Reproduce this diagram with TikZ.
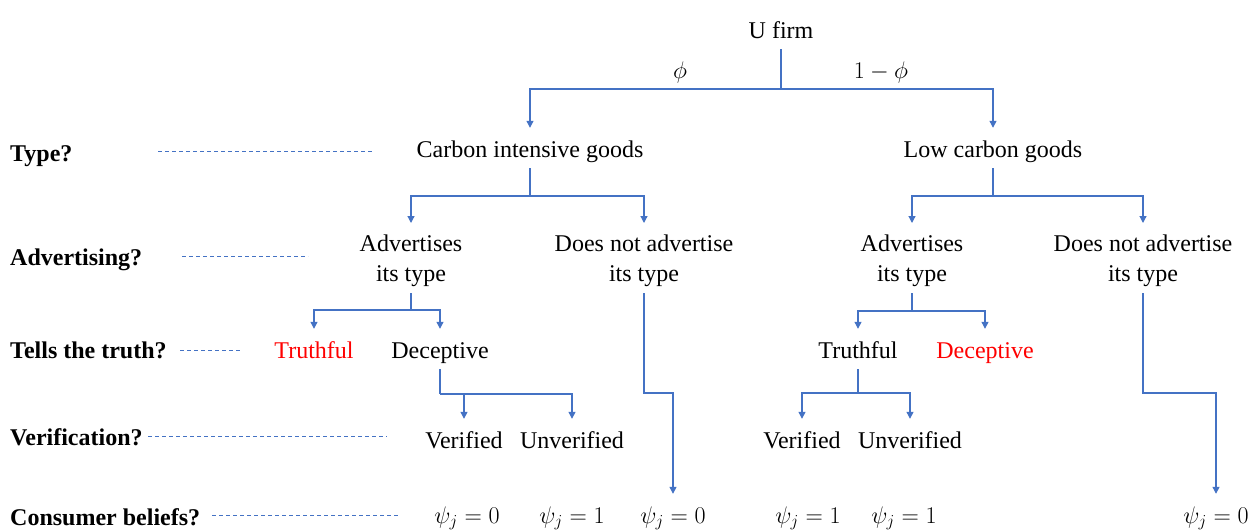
\documentclass[tikz,border=0pt]{standalone}
\usepackage{fix-cm}
\usepackage{fontspec}
\setmainfont{Liberation Serif}
\usetikzlibrary{arrows.meta}
\definecolor{lblue}{RGB}{68,114,196}
\definecolor{tred}{RGB}{255,0,0}
\begin{document}
\begin{tikzpicture}[x=1pt,y=-1pt,
  font=\fontsize{24}{30}\selectfont,
  tn/.style={inner sep=0pt, text height=17pt, text depth=5pt, anchor=base},
  tm/.style={inner sep=0pt, align=center, anchor=north},
  lab/.style={inner sep=0pt, anchor=base west, font=\fontsize{24}{30}\selectfont\bfseries},
  conn/.style={draw=lblue, line width=1.2pt, shorten <=6pt},
  arr/.style={draw=lblue, line width=1.2pt, -{Triangle[length=7pt,width=7pt]}, shorten >=12pt},
  dline/.style={draw=lblue, line width=0.9pt, dash pattern=on 4pt off 3pt}
]
\useasboundingbox (0,0) rectangle (1253,530);

% left labels
\node[lab] (lt) at (10,161) {Type?};
\node[lab] (la) at (10,265) {Advertising?};
\node[lab] (ltr) at (10,358) {Tells the truth?};
\node[lab] (lv) at (10,445) {Verification?};
\node[lab] (lc) at (10,525) {Consumer beliefs?};

\coordinate (d1a) at (158,151); \coordinate (d1b) at (372,151);
\coordinate (d2a) at (182,256); \coordinate (d2b) at (308,256);
\coordinate (d3a) at (180,350); \coordinate (d3b) at (240,350);
\coordinate (d4a) at (148,436); \coordinate (d4b) at (387,436);
\coordinate (d5a) at (212,515); \coordinate (d5b) at (398,515);
\draw[dline] (d1a) -- (d1b);
\draw[dline] (d2a) -- (d2b);
\draw[dline] (d3a) -- (d3b);
\draw[dline] (d4a) -- (d4b);
\draw[dline] (d5a) -- (d5b);

% tree nodes
\node[tn] (ufirm) at (781,38) {U firm};
\node[tn] (phi) at (680,78) {$\phi$};
\node[tn] (omphi) at (881,78) {$1-\phi$};
\node[tn] (carbon) at (530,157) {Carbon intensive goods};
\node[tn] (low) at (993,157) {Low carbon goods};
\node[tm] (adv1) at (411,235) {Advertises\\its type};
\node[tm] (dna1) at (644,235) {Does not advertise\\its type};
\node[tm] (adv2) at (912,235) {Advertises\\its type};
\node[tm] (dna2) at (1143,235) {Does not advertise\\its type};
\node[tn, text=tred] (tru1) at (314,358) {Truthful};
\node[tn] (dec1) at (440,358) {Deceptive};
\node[tn] (tru2) at (858,358) {Truthful};
\node[tn, text=tred] (dec2) at (985,358) {Deceptive};
\node[tn] (ver1) at (464,448) {Verified};
\node[tn] (unv1) at (572,448) {Unverified};
\node[tn] (ver2) at (802,448) {Verified};
\node[tn] (unv2) at (910,448) {Unverified};
\node[tn] (psi1) at (467,523) {$\psi_j=0$};
\node[tn] (psi2) at (572,523) {$\psi_j=1$};
\node[tn] (psi3) at (673,523) {$\psi_j=0$};
\node[tn] (psi4) at (808,523) {$\psi_j=1$};
\node[tn] (psi5) at (904,523) {$\psi_j=1$};
\node[tn] (psi6) at (1216,523) {$\psi_j=0$};

% junctions
\coordinate (j0) at (781,89);
\coordinate (j1) at (530,196);
\coordinate (j2) at (993,196);
\coordinate (j3) at (411,310);
\coordinate (j4) at (912,311);
\coordinate (j5) at (440,394);
\coordinate (j6) at (858,393);
\coordinate (k1) at (644,393);
\coordinate (k2) at (1143,393);

\draw[conn] (ufirm) -- (j0);
\draw[arr] (j0) -| (carbon);
\draw[arr] (j0) -| (low);

\draw[conn] (carbon) -- (j1);
\draw[arr] (j1) -| (adv1);
\draw[arr] (j1) -| (dna1);
\draw[conn] (low) -- (j2);
\draw[arr] (j2) -| (adv2);
\draw[arr] (j2) -| (dna2);

\draw[conn] (adv1) -- (j3);
\draw[arr] (j3) -| (tru1);
\draw[arr] (j3) -| (dec1);
\draw[conn] (adv2) -- (j4);
\draw[arr] (j4) -| (tru2);
\draw[arr] (j4) -| (dec2);

\draw[conn] (dec1) -- (j5);
\draw[arr] (j5) -| (ver1);
\draw[arr] (j5) -| (unv1);
\draw[conn] (tru2) -- (j6);
\draw[arr] (j6) -| (ver2);
\draw[arr] (j6) -| (unv2);

\draw[conn, arr] (dna1) -- (k1) -| (psi3);
\draw[conn, arr] (dna2) -- (k2) -| (psi6);
\end{tikzpicture}
\end{document}
